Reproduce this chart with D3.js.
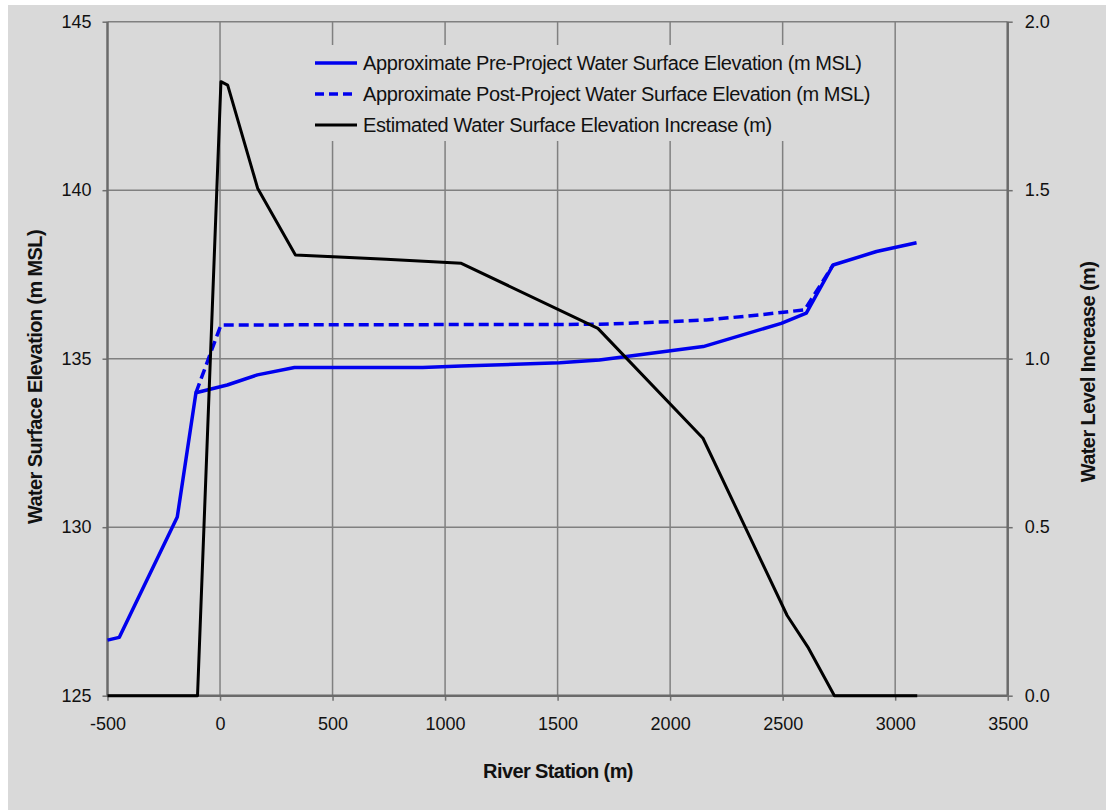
<!DOCTYPE html>
<html>
<head>
<meta charset="utf-8">
<script src="https://cdn.jsdelivr.net/npm/d3@7"></script>
<style>
  body { margin: 0; background: #fff; }
  text { font-family: "Liberation Sans", Arial, sans-serif; fill: #111; }
</style>
</head>
<body>
<div class="chart"></div>
<script>
// river stations (m) and values
let preStation = [-500, -448, -190, -107, 32, 166, 331, 900, 1072, 1509, 1686, 2147, 2494, 2605, 2724, 2917, 3095];
let preElev = [126.65, 126.73, 130.3, 133.99, 134.22, 134.52, 134.74, 134.74, 134.78, 134.88, 134.96, 135.36, 136.05, 136.35, 137.78, 138.18, 138.44];

let postStation = [-107, 4, 1686, 2000, 2161, 2398, 2598, 2724];
let postElev = [133.99, 136.0, 136.02, 136.1, 136.15, 136.3, 136.45, 137.78];

let incStation = [-500, -100, 4, 34, 167, 335, 738, 1072, 1679, 2146, 2520, 2615, 2730, 3098];
let incValue = [0, 0, 1.822, 1.812, 1.506, 1.308, 1.295, 1.283, 1.09, 0.764, 0.238, 0.141, 0, 0];

let xTicks = [-500, 0, 500, 1000, 1500, 2000, 2500, 3000, 3500];
let yTicks = [125, 130, 135, 140, 145];
let y2Ticks = [0, 0.5, 1.0, 1.5, 2.0];

let seriesNames = [
  'Approximate Pre-Project Water Surface Elevation (m MSL)',
  'Approximate Post-Project Water Surface Elevation (m MSL)',
  'Estimated Water Surface Elevation Increase (m)'
];

let W = 1106, H = 810;
let margin = { top: 21.7, right: 98.3, bottom: 114.3, left: 107.5 };
let width = W - margin.left - margin.right;
let height = H - margin.top - margin.bottom;

let root = d3.select('.chart')
  .append('svg')
    .attr('width', W)
    .attr('height', H);

root.append('rect')
  .attr('x', 8).attr('y', 5)
  .attr('width', W - 8).attr('height', H - 5)
  .style('fill', '#d9d9d9');

let svg = root.append('g')
  .attr('transform', `translate(${margin.left}, ${margin.top})`);

let xScale = d3.scaleLinear().domain([-500, 3500]).range([0, width]);
let yScale = d3.scaleLinear().domain([125, 145]).range([height, 0]);
let y2Scale = d3.scaleLinear().domain([0, 2]).range([height, 0]);

// grid
svg.append('g').selectAll('line')
  .data(xTicks.slice(1, -1))
  .join('line')
    .attr('x1', d => xScale(d)).attr('x2', d => xScale(d))
    .attr('y1', 0).attr('y2', height)
    .style('stroke', '#808080').style('stroke-width', 1.5);

svg.append('g').selectAll('line')
  .data(yTicks.slice(1))
  .join('line')
    .attr('x1', 0).attr('x2', width)
    .attr('y1', d => yScale(d)).attr('y2', d => yScale(d))
    .style('stroke', '#808080').style('stroke-width', 1.5);

// axes
function styleAxis(g) {
  g.select('.domain').remove();
  g.selectAll('.tick line').style('stroke', '#707070').style('stroke-width', 1.5);
  g.selectAll('.tick text')
    .style('font-family', '"Liberation Sans", Arial, sans-serif')
    .style('font-size', '18px')
    .style('fill', '#111');
}

svg.append('g')
  .call(d3.axisLeft(yScale).tickValues(yTicks).tickFormat(d => String(d))
    .tickSizeInner(5).tickSizeOuter(0).tickPadding(11))
  .call(styleAxis);

svg.append('g')
  .attr('transform', `translate(${width}, 0)`)
  .call(d3.axisRight(y2Scale).tickValues(y2Ticks).tickFormat(d => d.toFixed(1))
    .tickSizeInner(5).tickSizeOuter(0).tickPadding(12))
  .call(styleAxis);

svg.append('g')
  .attr('transform', `translate(0, ${height})`)
  .call(d3.axisBottom(xScale).tickValues(xTicks).tickFormat(d => String(d))
    .tickSizeInner(5).tickSizeOuter(0).tickPadding(17))
  .call(styleAxis);

// axis lines
[[0, 0, 0, height], [width, 0, width, height], [0, height, width, height]].forEach(c => {
  svg.append('line')
    .attr('x1', c[0]).attr('y1', c[1]).attr('x2', c[2]).attr('y2', c[3])
    .style('stroke', '#6a6a6a').style('stroke-width', 2.5);
});

// series
let line = d3.line().x(d => xScale(d[0])).y(d => yScale(d[1]));
let line2 = d3.line().x(d => xScale(d[0])).y(d => y2Scale(d[1]));

svg.append('path')
  .datum(d3.zip(preStation, preElev))
  .attr('d', line)
  .style('fill', 'none').style('stroke', '#0000ee').style('stroke-width', 3.5)
  .style('stroke-linejoin', 'round');

svg.append('path')
  .datum(d3.zip(postStation, postElev))
  .attr('d', line)
  .style('fill', 'none').style('stroke', '#0000ee').style('stroke-width', 3.5)
  .style('stroke-dasharray', '10,5');

svg.append('path')
  .datum(d3.zip(incStation, incValue))
  .attr('d', line2)
  .style('fill', 'none').style('stroke', '#000').style('stroke-width', 3)
  .style('stroke-linejoin', 'round');

// legend
let legend = root.append('g');
legend.append('rect')
  .attr('x', 308).attr('y', 45).attr('width', 574).attr('height', 96)
  .style('fill', '#d9d9d9');

let legendRows = [
  { y: 63, color: '#0000ee', dash: null, w: 3.5 },
  { y: 94, color: '#0000ee', dash: '9,5', w: 3.5 },
  { y: 125, color: '#000', dash: null, w: 3 }
];
legendRows.forEach((r, i) => {
  legend.append('line')
    .attr('x1', 315).attr('x2', 357).attr('y1', r.y).attr('y2', r.y)
    .style('stroke', r.color).style('stroke-width', r.w)
    .style('stroke-dasharray', r.dash);
  legend.append('text')
    .attr('x', 363).attr('y', r.y).attr('dy', '0.35em')
    .style('font-size', '20px').style('letter-spacing', '-0.4px')
    .text(seriesNames[i]);
});

// titles
root.append('text')
  .attr('transform', 'translate(42, 377) rotate(-90)')
  .attr('text-anchor', 'middle')
  .style('font-size', '20px').style('font-weight', 'bold').style('letter-spacing', '-0.6px')
  .text('Water Surface Elevation (m MSL)');

root.append('text')
  .attr('transform', 'translate(1095, 372) rotate(-90)')
  .attr('text-anchor', 'middle')
  .style('font-size', '20px').style('font-weight', 'bold').style('letter-spacing', '-0.6px')
  .text('Water Level Increase (m)');

root.append('text')
  .attr('x', 558).attr('y', 778)
  .attr('text-anchor', 'middle')
  .style('font-size', '20px').style('font-weight', 'bold').style('letter-spacing', '-0.6px')
  .text('River Station (m)');
</script>
</body>
</html>
